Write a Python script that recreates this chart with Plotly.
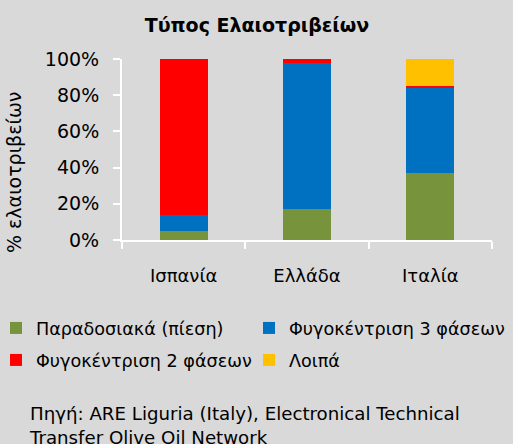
import plotly.graph_objects as go

countries = ["Ισπανία", "Ελλάδα", "Ιταλία"]
series_names = ["Παραδοσιακά (πίεση)", "Φυγοκέντριση 3 φάσεων", "Φυγοκέντριση 2 φάσεων", "Λοιπά"]
traditional = [5, 17, 37]
three_phase = [9, 81, 47]
two_phase = [86, 2, 1]
other = [0, 0, 15]
colors = ["#77933C", "#0070C0", "#FF0000", "#FFC000"]
legend_ids = ["legend", "legend2", "legend3", "legend4"]
y_ticks = [0, 20, 40, 60, 80, 100]
y_tick_labels = ["0%", "20%", "40%", "60%", "80%", "100%"]

FONT = "DejaVu Sans"
W, H = 513, 444
L, R, T, B = 122, 21, 59, 204
PW, PH = W - L - R, H - T - B


def px_x(x):
    return (x - L) / PW


def px_y(y):
    return (H - B - y) / PH


fig = go.Figure()
for name, vals, col, lg in zip(series_names, [traditional, three_phase, two_phase, other], colors, legend_ids):
    fig.add_trace(go.Bar(x=countries, y=vals, name=name, marker=dict(color=col, line=dict(width=0)),
                         width=0.39, legend=lg))

legend_common = dict(orientation="h", xanchor="left", yanchor="middle",
                     traceorder="normal", font=dict(size=17.6, family=FONT),
                     itemwidth=30, bgcolor="rgba(0,0,0,0)", borderwidth=0)
legend_pos = [(36, 328), (289, 328), (36, 360), (289, 360)]
legend_layout = {}
for lg, (tx, ty) in zip(legend_ids, legend_pos):
    legend_layout[lg] = dict(**legend_common, x=px_x(tx - 40), y=px_y(ty))

fig.update_layout(
    barmode="stack",
    width=W, height=H,
    paper_bgcolor="#D9D9D9", plot_bgcolor="#D9D9D9",
    margin=dict(l=L, r=R, t=T, b=B, autoexpand=False),
    font=dict(family=FONT, size=18, color="#000000"),
    title=dict(text="<b>Τύπος Ελαιοτριβείων</b>", x=257 / W, xanchor="center", xref="container",
               y=1 - 25 / H, yanchor="middle", font=dict(size=19, family=FONT)),
    showlegend=True,
    **legend_layout,
)
fig.update_xaxes(showline=True, linecolor="white", linewidth=2, ticks="outside", tickcolor="white",
                 ticklen=7, tickwidth=2, showgrid=False, tickson="boundaries",
                 ticklabelstandoff=18,
                 tickfont=dict(size=18, family=FONT))
fig.update_yaxes(range=[0, 100], tickvals=y_ticks, ticktext=y_tick_labels, showline=True,
                 linecolor="white", linewidth=2, ticks="outside", tickcolor="white", ticklen=7,
                 tickwidth=2, showgrid=False, zeroline=False, ticklabelstandoff=10,
                 tickfont=dict(size=19, family=FONT))

fig.add_annotation(text="% ελαιοτριβείων", textangle=-90,
                   xref="paper", yref="paper", x=px_x(14), y=px_y(173),
                   xanchor="center", yanchor="middle", showarrow=False,
                   font=dict(size=19, family=FONT))

fig.add_annotation(text="Πηγή: ARE Liguria (Italy), Electronical Technical<br>Transfer Olive Oil Network",
                   xref="paper", yref="paper", x=px_x(27), y=px_y(425),
                   xanchor="left", yanchor="middle",
                   align="left", showarrow=False, font=dict(size=18.2, family=FONT))

fig.write_html("out.html", post_script="document.body.style.margin='0';",
               config={"displayModeBar": False})
